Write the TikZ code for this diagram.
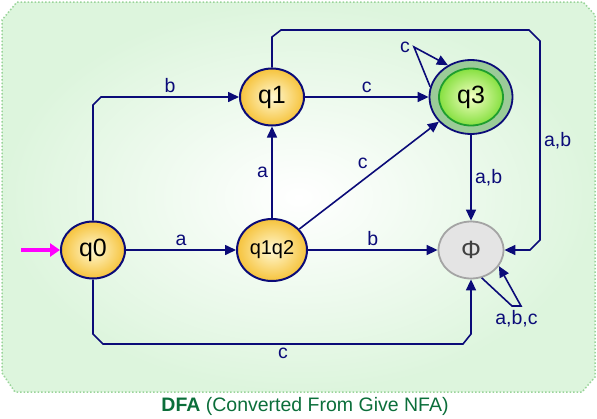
\documentclass[tikz,border=0pt]{standalone}
\usepackage{fontspec}
\setmainfont{Liberation Sans}
\usetikzlibrary{arrows.meta, shapes, positioning, calc}

\definecolor{edgeblue}{HTML}{0B0B78}
\definecolor{qin}{HTML}{FFF8D2}
\definecolor{qout}{HTML}{F6C33C}
\definecolor{ringgreen}{HTML}{9BCB98}
\definecolor{accline}{HTML}{1E9E2E}
\definecolor{accin}{HTML}{F4FFC4}
\definecolor{accout}{HTML}{86E040}
\definecolor{deadfill}{HTML}{E4E4E4}
\definecolor{deadline}{HTML}{A4A4A4}
\definecolor{bgfill}{HTML}{DDF5DD}
\definecolor{bgline}{HTML}{9AD49A}
\definecolor{capgreen}{HTML}{0B6E3A}
\definecolor{startpink}{HTML}{FF00FF}

\begin{document}
\begin{tikzpicture}[
            x = 1pt, y = -1pt,
            ->,
            > = {Triangle[length=11pt, width=10pt]},
            color = edgeblue,
            line width = 1.6pt,
            on grid,
            font = \fontsize{19.5}{21}\selectfont,
            dstate/.style = {ellipse, draw = edgeblue, line width = 2pt,
                inner color = qin, outer color = qout, text = black,
                minimum width = 64pt, minimum height = 57pt, inner sep = 0pt,
                font = \fontsize{25}{27}\selectfont},
            accept/.style = {ellipse, draw = edgeblue, line width = 1.8pt,
                fill = ringgreen, minimum width = 83pt, minimum height = 74pt},
            acceptin/.style = {ellipse, draw = accline, line width = 1.8pt,
                inner color = accin, outer color = accout, text = black,
                minimum width = 64pt, minimum height = 57pt, inner sep = 0pt,
                font = \fontsize{25}{27}\selectfont},
            deadstate/.style = {ellipse, draw = deadline, line width = 1.8pt,
                fill = deadfill, text = black!75,
                minimum width = 65pt, minimum height = 57pt, inner sep = 0pt,
                font = \fontsize{25}{27}\selectfont},
            startarrow/.style = {startpink, line width = 3.5pt,
                -{Triangle[length=10pt, width=13pt]}},
            caption/.style = {text = capgreen, font = \fontsize{19.5}{21}\selectfont}
        ]
        \useasboundingbox (0,0) rectangle (597,418);
        % background
        \draw[-, bgline, dotted, line width = 1.5pt, inner color = white, outer color = bgfill]
            (17,2) -- (583,2) -- (595,15) -- (595,377) -- (582,392)
            -- (15,392) -- (2,373) -- (2,20) -- cycle;

        \node[dstate] (q0) at (93,250) {q0};
        \node[dstate, right=179pt of q0, minimum width=70pt, minimum height=62pt,
            font=\fontsize{20}{22}\selectfont] (q1q2) {q1q2};
        \node[dstate, above=153pt of q1q2] (q1) {q1};
        \node[accept, right=199pt of q1] (q3) {};
        \node[acceptin] (q3in) at (q3) {q3};
        \node[deadstate, right=199pt of q1q2] (phi) {Φ};

        \coordinate (start) at ([xshift=-39pt]q0.west);
        \coordinate (ne) at (540,30);
        \coordinate (low) at (0,344);
        \coordinate (c1) at (q0.north |- q1.west);
        \coordinate (c2) at (q1.north |- ne);
        \coordinate (c3) at (ne |- phi.east);
        \coordinate (c4) at (q0.south |- low);
        \coordinate (c5) at (phi.south |- low);
        \coordinate (l3) at ($(q3)+(-57,-50)$);
        \coordinate (lp) at ($(phi)+(41,56)$);

        \draw[startarrow] (start) -- (q0.west);

        \draw (q0.north) -- ([yshift=-8pt]c1) -- ([xshift=8pt]c1)
            -- node[above] {b} (q1.west);
        \draw (q0) -- node[above] {a} (q1q2);
        \draw (q1q2) -- node[left] {a} (q1);
        \draw (q1) -- node[above] {c} (q3);
        \draw (q1q2) -- node[above left, pos=.52] {c} (q3);
        \draw (q1q2) -- node[above] {b} (phi);
        \draw (q3) -- node[right] {a,b} (phi);
        \draw (q1.north) -- ([yshift=-7pt]c2) -- ([xshift=9pt]c2)
            -- ([xshift=-11pt]ne) -- ([yshift=-11pt]ne)
            -- node[right] {a,b} ([yshift=10pt]c3) -- ([xshift=-10pt]c3) -- (phi.east);
        \draw (q0.south) -- ([yshift=10pt]c4) -- ([xshift=10pt]c4)
            -- node[below] {c} ([xshift=-8pt]c5) -- ([yshift=10pt]c5) -- (phi.south);
        \draw (q3.166) -- (l3) node[left] {c} -- (q3.126);
        \draw (phi.-69) -- (lp) -- node[below] {a,b,c} ([xshift=9pt]lp) -- (phi.-30);

        \node[caption] (title) at (305,406) {\textbf{DFA} (Converted From Give NFA)};
    \end{tikzpicture}
\end{document}
